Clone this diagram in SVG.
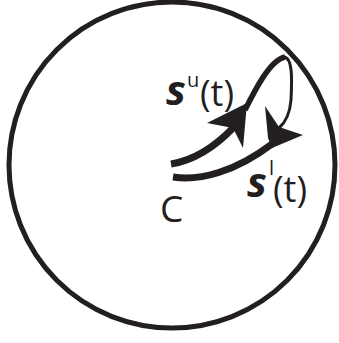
<svg xmlns="http://www.w3.org/2000/svg" width="339" height="343" viewBox="0 0 339 343">
  <style>
    .lbl { font-family: "Open Sans", "Liberation Sans", sans-serif; fill: #231f20; }
    .bs { font-weight: bold; font-style: italic; font-size: 42px; }
    .par { font-size: 36px; }
    .sup { font-size: 20px; }
    .crv { fill: none; stroke: #231f20; stroke-linecap: butt; }
    .head { fill: #231f20; stroke: none; }
  </style>
  <rect width="339" height="343" fill="#ffffff"/>
  <g id="boundary">
    <circle cx="172" cy="165" r="163" fill="none" stroke="#231f20" stroke-width="5"/>
  </g>
  <g id="connectors">
    <path class="crv" stroke-width="7" d="M171,164 C190,161 212,150 234,127"/>
    <polygon class="head" points="207,123 247,103 243,148 233,128"/>
    <path class="crv" stroke-width="5.5" d="M245,110 C255,90 270,60 285,57"/>
    <path class="crv" stroke-width="3" d="M283,57 C293,56 292,80 291,100 C290,112 287,121 279,128"/>
    <path class="crv" stroke-width="7" d="M173,177 C200,181 235,172 272,144"/>
    <polygon class="head" points="265,106 279,127 303,135 272,148 268,138"/>
  </g>
  <g id="label-su">
    <text class="lbl bs" x="166" y="105">s</text>
    <text class="lbl sup" x="187" y="87">u</text>
    <text class="lbl par" x="200" y="106">(t)</text>
  </g>
  <g id="label-sl">
    <text class="lbl bs" x="247" y="197">s</text>
    <text class="lbl sup" x="269" y="175">l</text>
    <text class="lbl par" x="273" y="202">(t)</text>
  </g>
  <g id="label-c">
    <text class="lbl" x="160" y="222" font-size="37">C</text>
  </g>
</svg>
